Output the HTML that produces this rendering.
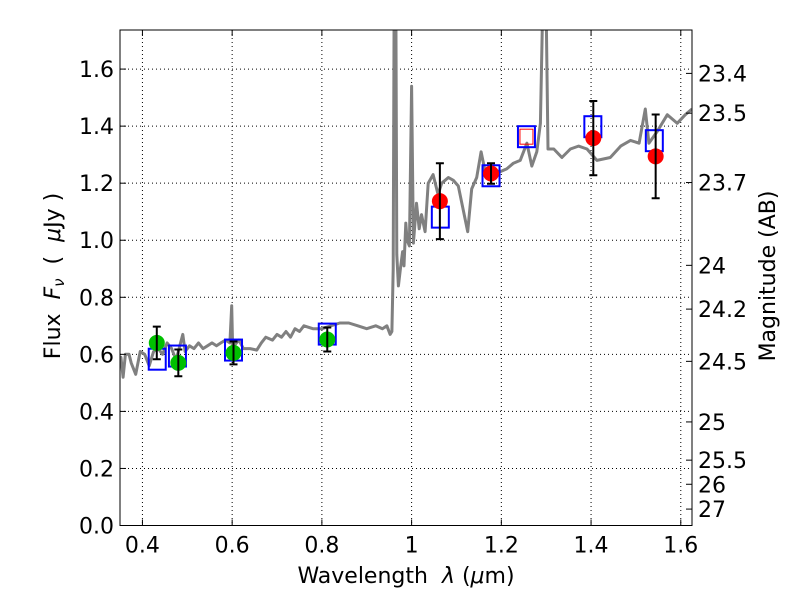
<!DOCTYPE html>
<html><head><meta charset="utf-8"><style>
body{margin:0;background:#fff;}
svg text{font-family:"DejaVu Sans","Liberation Sans",sans-serif;fill:#000;white-space:pre;}
</style></head><body>
<svg id="chart" width="800" height="600" viewBox="0 0 800 600" xmlns="http://www.w3.org/2000/svg">
<rect width="800" height="600" fill="#fff"/>
<g id="grid"></g><g id="spec"></g><g id="marks"></g><g id="axes"></g>
</svg>
<script>
const specWave=[0.350,0.352,0.357,0.362,0.37,0.375,0.385,0.395,0.405,0.415,0.425,0.435,0.445,0.455,0.465,0.475,0.49,0.495,0.505,0.515,0.525,0.535,0.545,0.555,0.565,0.575,0.585,0.595,0.599,0.601,0.604,0.615,0.625,0.64,0.655,0.665,0.675,0.69,0.70,0.71,0.72,0.73,0.74,0.75,0.76,0.78,0.80,0.82,0.84,0.86,0.88,0.90,0.92,0.935,0.945,0.952,0.956,0.959,0.961,0.965,0.967,0.9705,0.975,0.98,0.983,0.987,0.990,0.995,1.0,1.004,1.011,1.017,1.022,1.03,1.037,1.048,1.059,1.067,1.082,1.093,1.104,1.116,1.125,1.134,1.145,1.155,1.164,1.175,1.197,1.212,1.227,1.242,1.257,1.268,1.279,1.287,1.292,1.300,1.304,1.317,1.335,1.354,1.372,1.391,1.413,1.443,1.466,1.488,1.507,1.521,1.529,1.547,1.570,1.592,1.610,1.625];
const specFlux=[0.58,0.59,0.52,0.60,0.60,0.57,0.53,0.61,0.60,0.56,0.61,0.62,0.60,0.64,0.62,0.58,0.67,0.61,0.63,0.62,0.64,0.62,0.63,0.64,0.63,0.64,0.65,0.64,0.77,0.63,0.63,0.65,0.62,0.62,0.615,0.64,0.66,0.65,0.67,0.66,0.68,0.66,0.69,0.68,0.70,0.69,0.69,0.70,0.71,0.71,0.70,0.69,0.70,0.69,0.70,0.67,0.68,0.90,1.80,1.80,0.95,0.84,0.90,0.96,0.91,1.06,1.00,0.98,1.54,0.99,1.13,1.04,1.09,1.03,1.20,1.23,1.16,1.20,1.22,1.21,1.19,1.10,1.03,1.18,1.22,1.31,1.24,1.25,1.24,1.25,1.27,1.28,1.34,1.26,1.31,1.41,1.80,1.80,1.32,1.32,1.29,1.32,1.33,1.32,1.28,1.29,1.33,1.35,1.34,1.46,1.34,1.38,1.44,1.41,1.44,1.46];
const greenWave=[0.432,0.480,0.603,0.812];
const greenFlux=[0.640,0.570,0.605,0.652];
const greenErr=[0.057,0.047,0.040,0.042];
const redWave=[1.063,1.177,1.405,1.544];
const redFlux=[1.137,1.234,1.358,1.294];
const redErr=[0.133,0.036,0.130,0.147];
const modelWave=[0.433,0.478,0.603,0.812,1.064,1.177,1.256,1.404,1.541];
const modelFlux=[0.583,0.594,0.615,0.671,1.081,1.226,1.363,1.398,1.349];
const xTicks=[0.4,0.6,0.8,1.0,1.2,1.4,1.6];
const xTickLabels=["0.4","0.6","0.8","1","1.2","1.4","1.6"];
const yTicks=[0,0.2,0.4,0.6,0.8,1.0,1.2,1.4,1.6];
const yTickLabels=["0.0","0.2","0.4","0.6","0.8","1.0","1.2","1.4","1.6"];
const magTicks=[23.4,23.5,23.7,24,24.2,24.5,25,25.5,26,27];
const magLabels=["23.4","23.5","23.7","24","24.2","24.5","25","25.5","26","27"];

const L=120,R=692,T=30,B=525.5,X0=0.35,X1=1.625,Y0=0,Y1=1.737;
const xs=v=>L+(v-X0)/(X1-X0)*(R-L);
const ys=v=>B-(v-Y0)/(Y1-Y0)*(B-T);
const NS="http://www.w3.org/2000/svg";
function mk(tag,attrs,parent,text){const e=document.createElementNS(NS,tag);for(const k in attrs)e.setAttribute(k,attrs[k]);if(text!==undefined)e.textContent=text;parent.appendChild(e);return e;}
const svg=document.getElementById('chart');
const grid=document.getElementById('grid'),spec=document.getElementById('spec'),marks=document.getElementById('marks'),axes=document.getElementById('axes');
const cp=mk('clipPath',{id:'clip'},svg);
mk('rect',{x:L,y:T,width:R-L,height:B-T},cp);

xTicks.forEach((v,i)=>{
  const x=xs(v);
  const g=mk('line',{x1:x,x2:x,y1:T,y2:B,stroke:'#000','stroke-width':1,'stroke-dasharray':'1,3'},grid);
  
  
  mk('line',{x1:x,x2:x,y1:B,y2:B-6,stroke:'#000'},axes);
  mk('line',{x1:x,x2:x,y1:T,y2:T+6,stroke:'#000'},axes);
  const t=mk('text',{x:x,y:B+27,'font-size':22,'text-anchor':'middle'},axes,xTickLabels[i]);
  
  
});
yTicks.forEach((v,i)=>{
  const y=ys(v);
  const g=mk('line',{x1:L,x2:R,y1:y,y2:y,stroke:'#000','stroke-width':1,'stroke-dasharray':'1,3'},grid);
  
  
  mk('line',{x1:L,x2:L+6,y1:y,y2:y,stroke:'#000'},axes);
  const t=mk('text',{x:L-6,y:y+8,'font-size':22,'text-anchor':'end'},axes,yTickLabels[i]);
  
  
});
magTicks.forEach((m,i)=>{
  const f=Math.pow(10,(23.9-m)/2.5);
  const y=ys(f);
  mk('line',{x1:R,x2:R-6,y1:y,y2:y,stroke:'#000'},axes);
  const t=mk('text',{x:R+6,y:y+8,'font-size':22},axes,magLabels[i]);
  
  
});

let d='';
specWave.forEach((w,i)=>{d+=(i?'L':'M')+xs(w).toFixed(1)+','+ys(specFlux[i]).toFixed(1);});
const sp=mk('path',{d:d,fill:'none',stroke:'#808080','stroke-width':3,'stroke-linejoin':'round','clip-path':'url(#clip)'},spec);



modelWave.forEach((w,i)=>{
  const x=xs(w),y=ys(modelFlux[i]);
  const r=mk('rect',{x:x-8.5,y:y-10.5,width:17,height:21,fill:'none',stroke:'#0000ff','stroke-width':2},marks);
  
  
  if(w>1.25&&w<1.26){
    const r2=mk('rect',{x:x-6.5,y:y-7.5,width:13,height:15,fill:'none',stroke:'#ff0000','stroke-width':1},marks);
    
    
  }
});
function pts(wv,fl,er,col,name){
  wv.forEach((w,i)=>{
    const x=xs(w);
    const c=mk('circle',{cx:x,cy:ys(fl[i]),r:8,fill:col},marks);
    
    
    const y1=ys(fl[i]-er[i]),y2=ys(fl[i]+er[i]);
    const e=mk('path',{d:`M${x},${y1}L${x},${y2}M${x-4},${y1}L${x+4},${y1}M${x-4},${y2}L${x+4},${y2}`,stroke:'#000','stroke-width':2,fill:'none'},marks);
    
    
  });
}
pts(greenWave,greenFlux,greenErr,'#00c000','optical-photometry-point');
pts(redWave,redFlux,redErr,'#ff0000','nir-photometry-point');

const fr=mk('rect',{x:L,y:T,width:R-L,height:B-T,fill:'none',stroke:'#000','stroke-width':1},axes);


const xl=mk('text',{x:406,y:583,'font-size':22,'text-anchor':'middle'},axes);


xl.innerHTML='Wavelength  <tspan font-style="italic">λ</tspan> (<tspan font-style="italic">μ</tspan>m)';
const yl=mk('text',{x:0,y:0,'font-size':22,'text-anchor':'middle',transform:'translate(60,276) rotate(-90)'},axes);


yl.innerHTML='Flux  <tspan font-style="italic">F</tspan><tspan font-style="italic" font-size="15" dy="4">ν</tspan><tspan dy="-4">  (  </tspan><tspan font-style="italic">μ</tspan>Jy )';
const ml=mk('text',{x:0,y:0,'font-size':22,'text-anchor':'middle',transform:'translate(775,276) rotate(-90)'},axes,'Magnitude (AB)');


</script>
</body></html>
